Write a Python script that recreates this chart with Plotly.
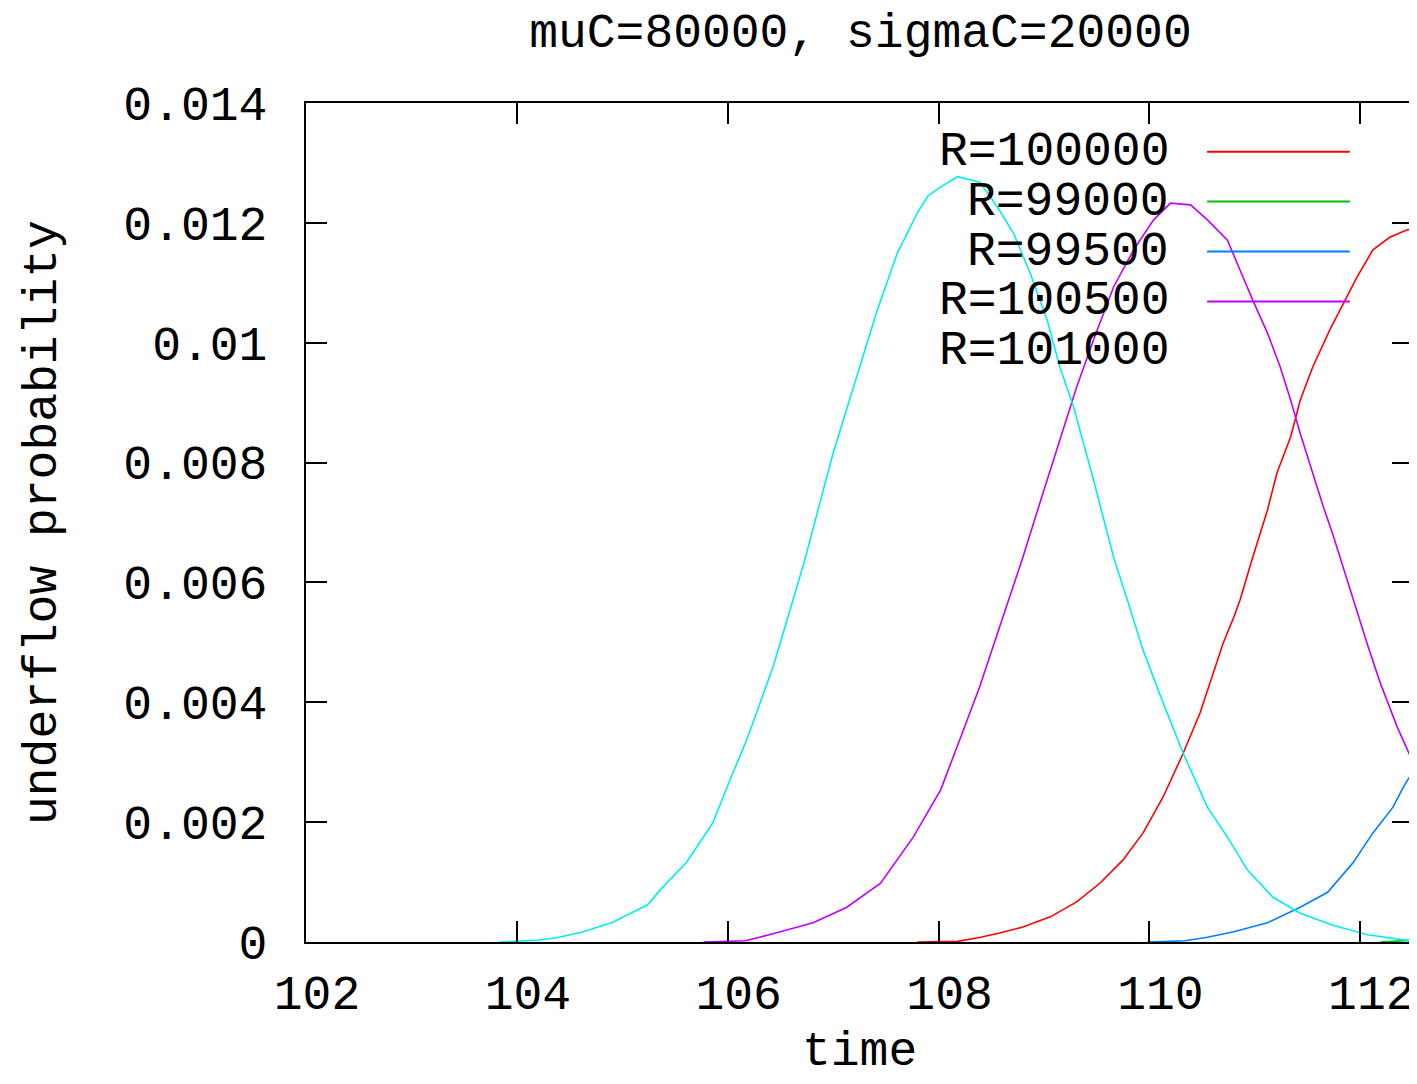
import plotly.graph_objects as go

# ---- data ----
series_names = ["R=100000", "R=99000", "R=99500", "R=100500", "R=101000"]
series_colors = ["#ff0000", "#00c000", "#0080ff", "#c000ff", "#00eeee"]

t_r100000 = [107.80, 108.18, 108.40, 108.58, 108.80, 109.06, 109.31, 109.53, 109.75, 109.94,
             110.13, 110.32, 110.48, 110.58, 110.70, 110.80, 110.86, 110.98, 111.12, 111.21,
             111.34, 111.43, 111.55, 111.71, 111.87, 111.97, 112.12, 112.28, 112.44, 112.50]
p_r100000 = [0, 0.00001, 0.00008, 0.00015, 0.00025, 0.00042, 0.00067, 0.00098, 0.00137, 0.00182,
             0.00242, 0.00315, 0.00382, 0.00437, 0.00499, 0.00542, 0.00571, 0.00642, 0.00721, 0.00783,
             0.00843, 0.00904, 0.00960, 0.01021, 0.01076, 0.01110, 0.01155, 0.01176, 0.01188, 0.01190]

t_r99000 = [112.19, 112.35, 112.50]
p_r99000 = [0, 0.00001, 0.00003]

t_r99500 = [109.98, 110.34, 110.55, 110.80, 111.12, 111.43, 111.69, 111.93, 112.12, 112.31, 112.41, 112.49]
p_r99500 = [0, 0.00002, 0.00008, 0.00017, 0.00032, 0.00058, 0.00083, 0.00132, 0.00182, 0.00225, 0.00259, 0.00282]

t_r100500 = [105.77, 106.17, 106.50, 106.81, 107.13, 107.45, 107.76, 108.02, 108.20, 108.39,
             108.57, 108.80, 108.99, 109.15, 109.31, 109.47, 109.66, 109.85, 110.04, 110.20,
             110.39, 110.55, 110.74, 110.86, 110.98, 111.12, 111.24, 111.34, 111.43, 111.53,
             111.65, 111.74, 111.90, 112.07, 112.19, 112.35, 112.49]
p_r100500 = [0, 0.00002, 0.00017, 0.00032, 0.00058, 0.00098, 0.00175, 0.00254, 0.00337, 0.00426,
             0.00521, 0.00642, 0.00749, 0.00838, 0.00926, 0.01005, 0.01093, 0.01155, 0.01205, 0.01233,
             0.01230, 0.01205, 0.01171, 0.01121, 0.01071, 0.01016, 0.00960, 0.00904, 0.00849, 0.00793,
             0.00726, 0.00680, 0.00590, 0.00495, 0.00432, 0.00359, 0.00304]

t_r101000 = [103.84, 104.19, 104.38, 104.63, 104.91, 105.24, 105.36, 105.61, 105.86, 106.02,
             106.18, 106.43, 106.62, 106.73, 107.00, 107.23, 107.42, 107.61, 107.80, 107.90,
             108.02, 108.18, 108.39, 108.56, 108.71, 108.87, 109.03, 109.15, 109.28, 109.47,
             109.66, 109.79, 109.94, 110.13, 110.32, 110.55, 110.74, 110.93, 111.17, 111.43,
             111.74, 112.07, 112.47]
p_r101000 = [0, 0.00003, 0.00007, 0.00017, 0.00033, 0.00062, 0.00087, 0.00133, 0.00199, 0.00270,
             0.00337, 0.00459, 0.00571, 0.00637, 0.00816, 0.00949, 0.01055, 0.01150, 0.01217, 0.01245,
             0.01260, 0.01277, 0.01268, 0.01226, 0.01183, 0.01116, 0.01038, 0.00960, 0.00893, 0.00771,
             0.00642, 0.00571, 0.00487, 0.00399, 0.00315, 0.00225, 0.00175, 0.00120, 0.00075, 0.00048,
             0.00028, 0.00012, 0.00002]

series_t = [t_r100000, t_r99000, t_r99500, t_r100500, t_r101000]
series_p = [p_r100000, p_r99000, p_r99500, p_r100500, p_r101000]
key_has_sample = [True, True, True, True, False]

title_text = "muC=80000, sigmaC=20000"
x_title = "time"
y_title = "underflow probability"
x_ticks = [102, 104, 106, 108, 110, 112]
y_ticks = [0, 0.002, 0.004, 0.006, 0.008, 0.01, 0.012, 0.014]
y_tick_text = ["0", "0.002", "0.004", "0.006", "0.008", "0.01", "0.012", "0.014"]

FONT = "Liberation Mono"
FS = 48

fig = go.Figure()
for name, col, t, p in zip(series_names, series_colors, series_t, series_p):
    fig.add_trace(go.Scatter(x=t, y=p, mode="lines", name=name,
                             line=dict(color=col, width=1.6), showlegend=False))

# gnuplot-style key: right-aligned labels, sample line to the right
key_text_x = 0.781
key_line_x0, key_line_x1 = 0.814, 0.943
key_row_y0, key_row_dy = 0.942, 0.0595
for i, (name, col, has) in enumerate(zip(series_names, series_colors, key_has_sample)):
    yy = key_row_y0 - i * key_row_dy
    fig.add_annotation(x=key_text_x, y=yy, xref="paper", yref="paper", text=name,
                       showarrow=False, xanchor="right", yanchor="middle",
                       font=dict(family=FONT, size=FS, color="black"))
    if has:
        fig.add_shape(type="line", xref="paper", yref="paper", x0=key_line_x0, x1=key_line_x1,
                      y0=yy, y1=yy, line=dict(color=col, width=2))

# axis titles placed like gnuplot's
fig.add_annotation(x=-0.238, y=0.5, xref="paper", yref="paper", text=y_title,
                   showarrow=False, textangle=-90, xanchor="center", yanchor="middle",
                   font=dict(family=FONT, size=FS, color="black"))
fig.add_annotation(x=0.5, y=-0.131, xref="paper", yref="paper", text=x_title,
                   showarrow=False, xanchor="center", yanchor="middle",
                   font=dict(family=FONT, size=FS, color="black"))

axis_common = dict(showline=True, linecolor="black", linewidth=2, mirror="ticks",
                   ticks="inside", ticklen=21, tickwidth=2, tickcolor="black",
                   showgrid=False, zeroline=False,
                   tickfont=dict(family=FONT, size=FS, color="black"))

fig.update_layout(
    width=1409, height=1076,
    margin=dict(l=298, r=4, t=95, b=142, autoexpand=False),
    paper_bgcolor="white", plot_bgcolor="white",
    title=dict(text=title_text, x=0.605, xanchor="center", y=0.9796, yanchor="middle",
               font=dict(family=FONT, size=FS, color="black")),
    xaxis=dict(range=[102, 112.5], tickvals=x_ticks, ticktext=[str(v) for v in x_ticks],
               ticklabelstandoff=7, ticklabelshift=11, **axis_common),
    yaxis=dict(range=[0, 0.014], tickvals=y_ticks, ticktext=y_tick_text,
               ticklabelstandoff=27, **axis_common),
)

fig.write_html("out.html")
